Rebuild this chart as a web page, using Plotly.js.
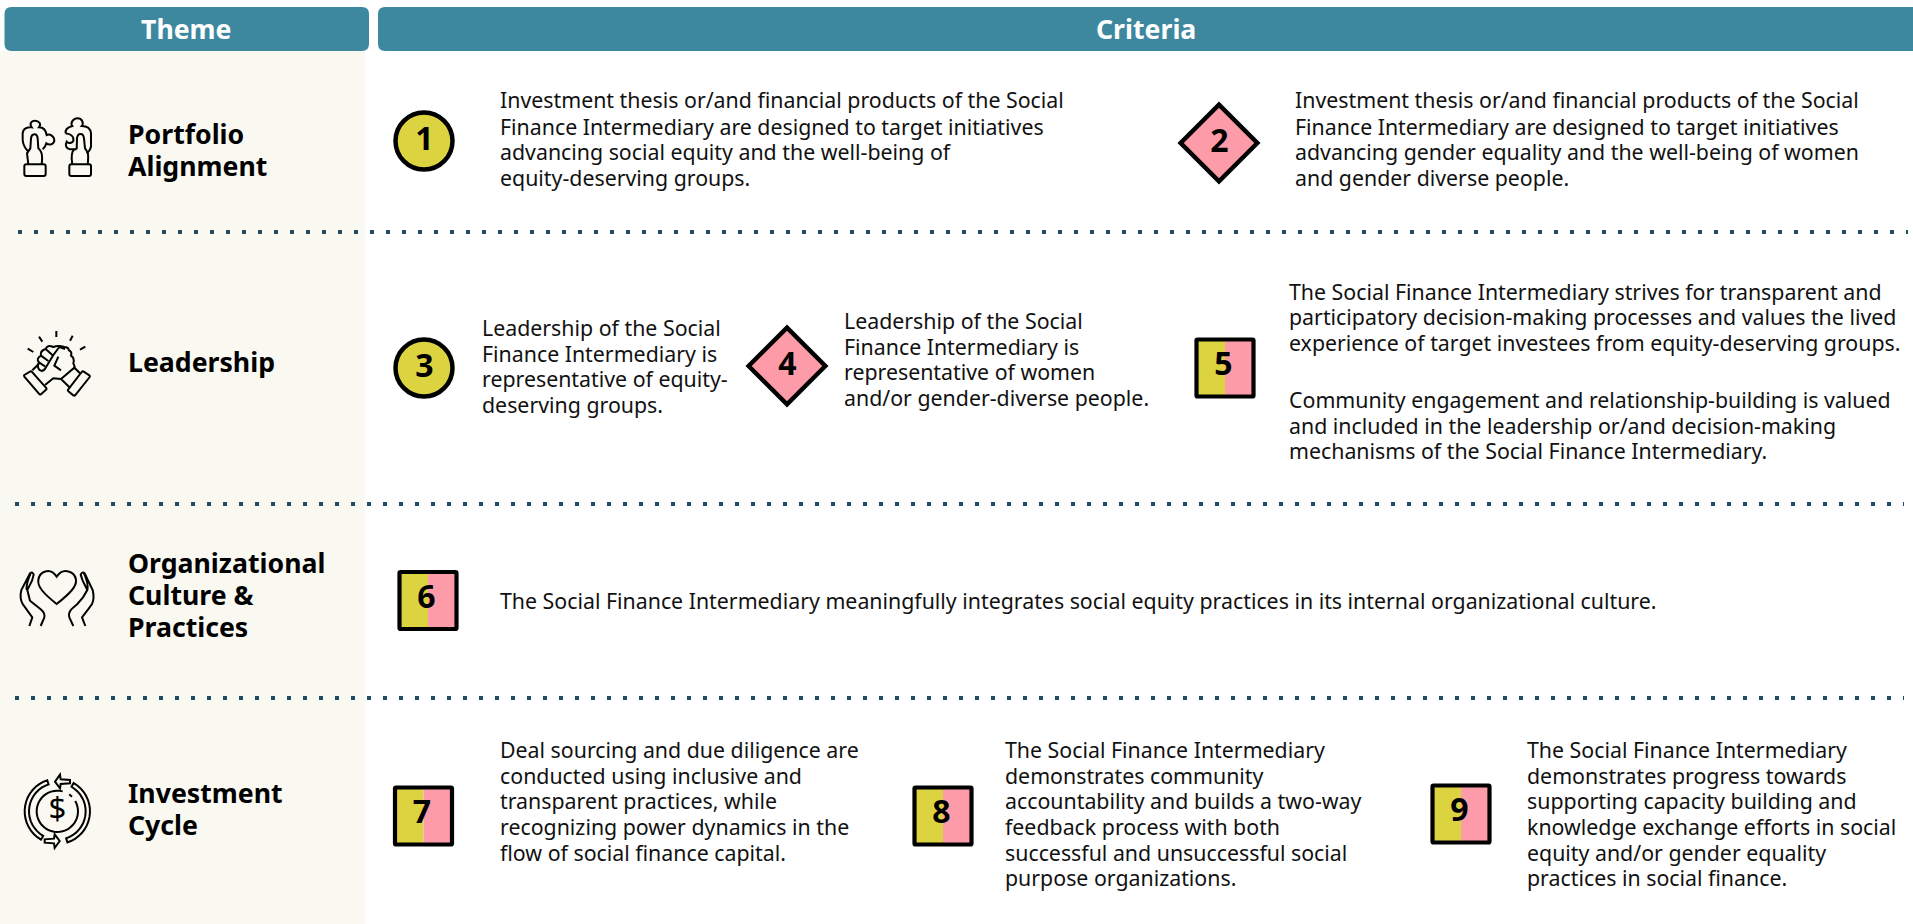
<!DOCTYPE html>
<html><head><meta charset="utf-8">
<script src="https://cdn.plot.ly/plotly-3.0.1.min.js"></script>
<style>html,body{margin:0;padding:0;background:#fff;overflow:hidden}#c{width:1913px;height:924px}</style>
</head><body><div id="c"></div>
<script>
// ---------- content ----------
const headers = ["Theme", "Criteria"];
const themes = [
  ["Portfolio", "Alignment"],
  ["Leadership"],
  ["Organizational", "Culture &", "Practices"],
  ["Investment", "Cycle"]
];
const criteria = [
  ["Investment thesis or/and financial products of the Social","Finance Intermediary are designed to target initiatives","advancing social equity and the well-being of","equity-deserving groups."],
  ["Investment thesis or/and financial products of the Social","Finance Intermediary are designed to target initiatives","advancing gender equality and the well-being of women","and gender diverse people."],
  ["Leadership of the Social","Finance Intermediary is","representative of equity-","deserving groups."],
  ["Leadership of the Social","Finance Intermediary is","representative of women","and/or gender-diverse people."],
  ["The Social Finance Intermediary strives for transparent and","participatory decision-making processes and values the lived","experience of target investees from equity-deserving groups.","Community engagement and relationship-building is valued","and included in the leadership or/and decision-making","mechanisms of the Social Finance Intermediary."],
  ["The Social Finance Intermediary meaningfully integrates social equity practices in its internal organizational culture."],
  ["Deal sourcing and due diligence are","conducted using inclusive and","transparent practices, while","recognizing power dynamics in the","flow of social finance capital."],
  ["The Social Finance Intermediary","demonstrates community","accountability and builds a two-way","feedback process with both","successful and unsuccessful social","purpose organizations."],
  ["The Social Finance Intermediary","demonstrates progress towards","supporting capacity building and","knowledge exchange efforts in social","equity and/or gender equality","practices in social finance."]
];
const badgeNumbers = ["1","2","3","4","5","6","7","8","9"];
const badgeKinds = ["equity","gender","equity","gender","both","both","both","both","both"];

// ---------- layout positions (pixels of the 1913x924 canvas) ----------
const badgeX = [424,1219,424,787,1225,428,423.5,943,1461];
const badgeY = [141,143,368,366,368,600.5,816,816,814];
const critX = [498.5,1293.5,480.5,842.5,1287.5,498.5,498.5,1003.5,1525.5];
const critY = [
  [99.5,126,151.5,177],[99.5,126,151.5,177],[327.5,353,378.5,404],[320.5,346,371,397],
  [291,316.5,342,399.5,425,450.5],[600.5],[749.5,775,800.5,826,852],[749.5,775,800.5,826,852,877.5],[749.5,775,800.5,826,852,877.5]
];
const themeY = [[133.5,165.5],[361],[562,594,626.5],[792.5,824.5]];
const dotY = [232,504,698];
const dotStart = [18,15,15];
const dotEnd = [1908,1904,1904];

const TEAL="#3e889f", BEIGE="#f9f8f1", DOT="#1f4e63", YEL="#dcd340", PINK="#fe9ba9", INK="#000";
const FONT="Noto Sans";

const shapes=[];
function rounded(x0,y0,x1,y1,r){return `M${x0+r},${y0} L${x1-r},${y0} Q${x1},${y0} ${x1},${y0+r} L${x1},${y1-r} Q${x1},${y1} ${x1-r},${y1} L${x0+r},${y1} Q${x0},${y1} ${x0},${y1-r} L${x0},${y0+r} Q${x0},${y0} ${x0+r},${y0} Z`;}
function add(o){shapes.push(Object.assign({xref:"x",yref:"y",layer:"below"},o));}

add({type:"rect",x0:0,x1:365,y0:51,y1:924,fillcolor:BEIGE,line:{width:0}});
add({type:"path",path:rounded(4.5,7,369,51,7),fillcolor:TEAL,line:{width:0}});
add({type:"path",path:rounded(378,7,1930,51,7),fillcolor:TEAL,line:{width:0}});

dotY.forEach((y,i)=>add({type:"line",x0:dotStart[i],x1:dotEnd[i],y0:y,y1:y,line:{color:DOT,width:4,dash:"4px,12px"}}));

// split square badges
badgeKinds.forEach((k,i)=>{
  if(k!=="both")return;
  const cx=badgeX[i],cy=badgeY[i],h=28.5;
  add({type:"rect",x0:cx-h,x1:cx,y0:cy-h,y1:cy+h,fillcolor:YEL,line:{width:0}});
  add({type:"rect",x0:cx,x1:cx+h,y0:cy-h,y1:cy+h,fillcolor:PINK,line:{width:0}});
  add({type:"path",path:rounded(cx-h,cy-h,cx+h,cy+h,1),fillcolor:"rgba(0,0,0,0)",line:{color:INK,width:4.2}});
});

// ---------- line icons, drawn in a 3x local grid ----------
function icon(d,ox,oy,w){
  const p=d.replace(/(-?[\d.]+),(-?[\d.]+)/g,(m,a,b)=>`${(ox+a/3).toFixed(2)},${(oy+b/3).toFixed(2)}`);
  add({type:"path",path:p,line:{color:INK,width:w||2},fillcolor:"rgba(0,0,0,0)"});
}
function band(cx,cy,r0,r1,a0,a1){
  let s="";const n=Math.max(6,Math.round(Math.abs(a1-a0)/8));
  for(let i=0;i<=n;i++){const a=(a0+(a1-a0)*i/n)*Math.PI/180;
    s+=(i?"L":"M")+(cx+r0*Math.cos(a)).toFixed(1)+","+(cy+r0*Math.sin(a)).toFixed(1)+" ";}
  if(r1){for(let i=n;i>=0;i--){const a=(a0+(a1-a0)*i/n)*Math.PI/180;
    s+="L"+(cx+r1*Math.cos(a)).toFixed(1)+","+(cy+r1*Math.sin(a)).toFixed(1)+" ";}
    s+="Z";}
  return s;
}
// Portfolio: two hands holding puzzle pieces
[
 "M34,163 Q28,163 28,169 L28,192 Q28,198 34,198 L86,198 Q92,198 92,192 L92,169 Q92,163 86,163 Z",
 "M169,163 Q163,163 163,169 L163,192 Q163,198 169,198 L222,198 Q228,198 228,192 L228,169 Q228,163 222,163 Z",
 "M40,125 C30,115 24,105 23,90 L23,70 C24,55 40,50 50,52 C42,40 50,32 60,32 C72,32 80,42 72,52 C84,52 92,58 95,75 C105,70 118,80 118,90 C118,102 105,108 94,100 C92,108 90,112 83,118",
 "M40,163 L36,130 L46,115 L48,85 C50,70 66,68 68,85 L70,115 C78,122 84,130 80,163",
 "M152,70 C150,60 158,52 172,48 C165,38 175,25 188,25 C200,25 208,38 200,48 C215,48 226,52 228,70 L228,110 C226,120 222,125 215,130",
 "M152,70 C160,72 172,72 175,85 C178,100 160,102 155,95 C150,105 152,115 165,118 L185,118",
 "M185,118 L186,85 C188,68 205,68 207,85 L210,115 C218,125 222,130 218,163 M178,118 C170,125 168,140 172,163"
].forEach(d=>icon(d,15,110));
// Leadership: clasped raised hands
[
 "M124,18 L124,36 M72,35 L82,50 M173,32 L165,47 M38,71 L55,81 M211,65 L195,74",
 "M28,150 L46,139 Q49,138 51,141 L94,189 Q96,192 93,194 L78,208 Q75,210 73,207 L28,155 Q26,152 28,150 Z",
 "M205,139 L223,151 Q226,153 224,156 L181,210 Q178,213 175,211 L160,199 Q157,196 160,193 L200,141 Q202,138 205,139 Z",
 "M52,136 L72,116 M90,180 L115,160 L138,162 L165,188 M138,162 L178,128 L195,145",
 "M78,138 Q62,128 72,112 Q62,100 78,92 Q74,78 92,72 Q96,58 115,66 Q130,60 148,66 Q160,66 162,76 Q172,80 168,92 Q180,100 175,115 L180,128",
 "M78,138 Q88,138 92,128 M72,112 L90,124 M78,92 L100,108 M92,72 L112,90 M92,128 L115,90 L133,66",
 "M130,95 L118,122 L138,136 M133,66 L150,72"
].forEach(d=>icon(d,15,325));
// Culture: heart held by two hands
const hL="M88,288 L97,262 L78,236 L68,222 Q58,205 64,180 L90,130 Q98,124 101,134 L96,152 L82,180 L90,212 L122,238 Q136,250 133,262 L122,288 M80,180 Q78,160 92,130";
const hR="M256,288 L246,262 L266,236 L276,222 Q284,205 278,180 L254,130 Q246,124 242,134 L248,152 L262,180 Q250,205 232,222 L214,238 Q204,250 208,262 L220,288 M262,180 Q266,160 252,130";
["M170,222 C130,190 112,170 115,150 C118,125 150,110 170,140 C190,110 225,125 228,150 C230,170 210,190 170,222 Z",hL,hR].forEach(d=>icon(d,0,530));
// Investment cycle: coin inside circular arrows
const cx=127,cy=124;
[
 band(cx,cy,62,0,-30,285),band(cx,cy,62,0,-55,-45),
 band(cx,cy,98,85,-60,72),band(cx,cy,98,85,120,252),
 "M135,14 L120,35 L135,55 L137,42 L165,40 L165,30 L137,28 Z",
 "M119,234 L134,213 L119,193 L117,206 L89,208 L89,218 L117,220 Z"
].forEach(d=>icon(d,15,770));

// ---------- text annotations ----------
const ann=[];
function txt(t,x,y,size,bold,color,anchor){
  ann.push({xref:"x",yref:"y",x,y,text:bold?`<b>${t}</b>`:t,showarrow:false,xanchor:anchor||"left",yanchor:"middle",align:anchor||"left",
    borderpad:0,font:{family:FONT,size,color:color||"#0c0c0c"}});
}
txt(headers[0],186.5,28,26.67,true,"#fff","center");
txt(headers[1],1146,28,26.67,true,"#fff","center");
themes.forEach((ls,i)=>ls.forEach((l,j)=>txt(l,126.5,themeY[i][j],26.67,true,"#000")));
criteria.forEach((ls,i)=>ls.forEach((l,j)=>txt(l,critX[i],critY[i][j],21.33,false,"#111")));

// ---------- marks ----------
const idx=k=>badgeKinds.map((v,i)=>v===k?i:-1).filter(i=>i>=0);
const pick=(a,ids)=>ids.map(i=>a[i]);
const numX=badgeX.map((x,i)=>badgeKinds[i]==="both"?x-1.5:x+0.5);
const numY=badgeY.map((y,i)=>badgeKinds[i]==="both"?y-1:y+0.5);
const traces=[
 {type:"scatter",mode:"markers",x:pick(badgeX,idx("equity")),y:pick(badgeY,idx("equity")),
  marker:{symbol:"circle",size:57,color:YEL,line:{color:INK,width:4.5}},hoverinfo:"skip"},
 {type:"scatter",mode:"markers",x:pick(badgeX,idx("gender")),y:pick(badgeY,idx("gender")),
  marker:{symbol:"diamond",size:59,color:PINK,line:{color:INK,width:4.5}},hoverinfo:"skip"},
 {type:"scatter",mode:"text",x:numX,y:numY,text:badgeNumbers.map(n=>`<b>${n}</b>`),textposition:"middle center",
  textfont:{family:FONT,size:32,color:"#000"},hoverinfo:"skip"},
 {type:"scatter",mode:"text",x:[15+cx/3],y:[770+cy/3],text:["$"],textposition:"middle center",
  textfont:{family:FONT,size:31,color:"#000"},hoverinfo:"skip"}
];
const layout={width:1913,height:924,margin:{l:0,r:0,t:0,b:0},showlegend:false,
 paper_bgcolor:"#fff",plot_bgcolor:"#fff",
 xaxis:{range:[0,1913],visible:false,fixedrange:true},
 yaxis:{range:[924,0],visible:false,fixedrange:true},
 shapes,annotations:ann};
Plotly.newPlot("c",traces,layout,{displayModeBar:false,staticPlot:true});
</script></body></html>
